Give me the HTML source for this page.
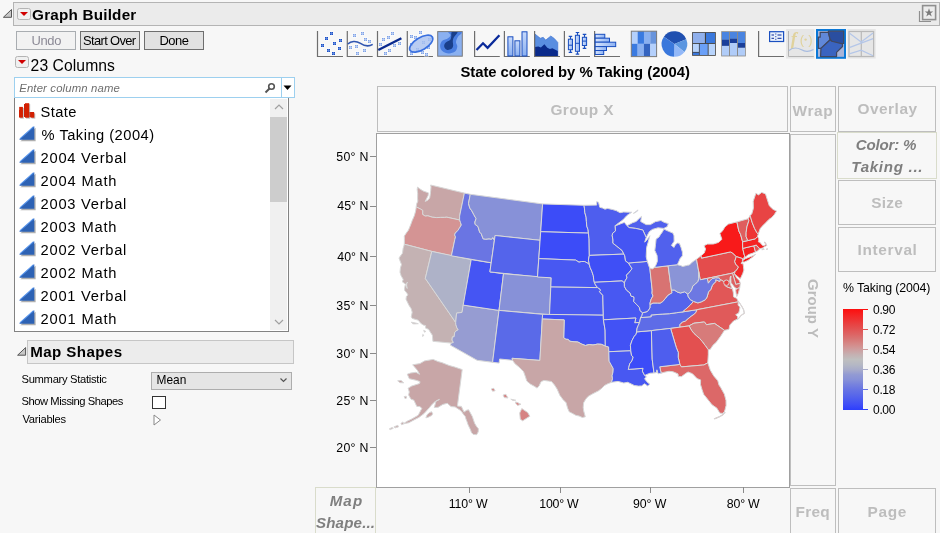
<!DOCTYPE html>
<html><head><meta charset="utf-8">
<style>
*{box-sizing:border-box;margin:0;padding:0}
html,body{width:940px;height:533px;overflow:hidden;background:#f7f7f7}
body{position:relative;font-family:"Liberation Sans",Arial,sans-serif;color:#000}
.a{position:absolute}
.hdr{left:13px;top:2px;width:927px;height:24px;background:#ebebeb;border:1px solid #b4b4b4}
.ddb{width:14px;height:12px;border:1px solid #b4b4b4;border-radius:2.5px;background:#f0f0f0}
.ddb:after{content:"";position:absolute;left:1.5px;top:2.6px;border-left:4px solid transparent;border-right:4px solid transparent;border-top:4.2px solid #d00000}
.btn{height:19px;border:1px solid #adadad;background:#e1e1e1;font-size:12.5px;text-align:center;line-height:17px}
.lst{font-size:14px;line-height:23px;white-space:nowrap}
.lbl{font-size:11.5px;white-space:nowrap}
.dz{border:1px solid #bebebe;color:#bcbcbc;font-weight:bold;font-size:15px;text-align:center}
.t{white-space:nowrap}
.tk{font-size:12px;white-space:nowrap}
</style></head><body>
<!-- header -->
<svg class="a" style="left:2px;top:8px" width="11" height="12"><path d="M9.5 1.5 L9.5 9.3 L1.4 9.3 Z" fill="#c8c8c8" stroke="#555" stroke-width="1" stroke-linejoin="round"/></svg>
<div class="a hdr"></div>
<div class="a ddb" style="left:17px;top:8px"></div>
<svg class="a" style="left:918px;top:4px" width="20" height="20"><path d="M1.5 7 V17.5 H13" fill="none" stroke="#8f8f8f" stroke-width="1.2"/><rect x="4.6" y="1.6" width="13" height="14" fill="#ececec" stroke="#8f8f8f" stroke-width="1.6"/><path d="M11 4.3 L12.1 7.4 L15.3 7.4 L12.7 9.3 L13.7 12.4 L11 10.5 L8.3 12.4 L9.3 9.3 L6.7 7.4 L9.9 7.4 Z" fill="#7a7a7a"/></svg>
<!-- buttons -->
<div class="a btn" style="left:16px;top:31px;width:60px;border-color:#a9adb1;background:#f2f2f2"></div>
<div class="a btn" style="left:80px;top:31px;width:60px;border-color:#6e6e6e"></div>
<div class="a btn" style="left:144px;top:31px;width:60px;border-color:#6e6e6e"></div>
<div class="a ddb" style="left:15px;top:56px"></div>
<!-- search -->
<div class="a" style="left:14px;top:77px;width:281px;height:21px;border:1px solid #9dd0ef;background:#fff"></div>
<div class="a" style="left:281px;top:78px;width:1px;height:19px;background:#9dd0ef"></div>
<svg class="a" style="left:264px;top:82px" width="12" height="12"><circle cx="7.5" cy="4.5" r="2.8" fill="none" stroke="#555" stroke-width="1.6"/><path d="M5.5 6.5 L1.5 10.5" stroke="#555" stroke-width="2"/></svg>
<svg class="a" style="left:283px;top:85px" width="10" height="6"><path d="M0.5 0.5 H8.5 L4.5 5 Z" fill="#000"/></svg>
<!-- list -->
<div class="a" style="left:14px;top:98px;width:275px;height:234px;border:1px solid #828282;border-top:none;background:#fff"></div>
<div class="a" style="left:270px;top:99px;width:17px;height:231px;background:#f0f0f0"></div>
<div class="a" style="left:270px;top:117px;width:17px;height:85px;background:#cdcdcd"></div>
<svg class="a" style="left:274px;top:104px" width="10" height="6"><path d="M1 5 L5 1 L9 5" fill="none" stroke="#a0a0a0" stroke-width="1.2"/></svg>
<svg class="a" style="left:274px;top:319px" width="10" height="6"><path d="M1 1 L5 5 L9 1" fill="none" stroke="#a0a0a0" stroke-width="1.2"/></svg>
<svg class="a" style="left:18px;top:103px" width="18" height="15"><rect x="1" y="7" width="4" height="7" fill="#c8200f"/><rect x="6" y="1" width="4" height="13" fill="#c8200f"/><rect x="11" y="9" width="5" height="5" fill="#c8200f"/></svg>
<svg class="a" style="left:0;top:0" width="940" height="70">
<defs><linearGradient id="gb" x1="0" x2="1"><stop offset="0" stop-color="#d6e4fc"/><stop offset="1" stop-color="#8eb2f2"/></linearGradient><linearGradient id="gv" x1="0" x2="0" y1="0" y2="1"><stop offset="0" stop-color="#c8dafc"/><stop offset="1" stop-color="#8ab0f0"/></linearGradient></defs>
<path d="M317.5 31V56.5H343.0" fill="none" stroke="#6e6e6e" stroke-width="1.2"/>
<rect x="329" y="31" width="5" height="5" fill="#ffffff" opacity="0.35"/><rect x="330" y="32" width="3" height="3" fill="#1d4fc4"/><path d="M330 33.5h3M331.5 32v3" stroke="#6c94e4" stroke-width="0.7"/><rect x="324" y="36" width="5" height="5" fill="#ffffff" opacity="0.35"/><rect x="325" y="37" width="3" height="3" fill="#1d4fc4"/><path d="M325 38.5h3M326.5 37v3" stroke="#6c94e4" stroke-width="0.7"/><rect x="338" y="38" width="5" height="5" fill="#ffffff" opacity="0.35"/><rect x="339" y="39" width="3" height="3" fill="#1d4fc4"/><path d="M339 40.5h3M340.5 39v3" stroke="#6c94e4" stroke-width="0.7"/><rect x="332" y="41" width="5" height="5" fill="#ffffff" opacity="0.35"/><rect x="333" y="42" width="3" height="3" fill="#1d4fc4"/><path d="M333 43.5h3M334.5 42v3" stroke="#6c94e4" stroke-width="0.7"/><rect x="320" y="43" width="5" height="5" fill="#ffffff" opacity="0.35"/><rect x="321" y="44" width="3" height="3" fill="#1d4fc4"/><path d="M321 45.5h3M322.5 44v3" stroke="#6c94e4" stroke-width="0.7"/><rect x="337" y="46" width="5" height="5" fill="#ffffff" opacity="0.35"/><rect x="338" y="47" width="3" height="3" fill="#1d4fc4"/><path d="M338 48.5h3M339.5 47v3" stroke="#6c94e4" stroke-width="0.7"/><rect x="326" y="48" width="5" height="5" fill="#ffffff" opacity="0.35"/><rect x="327" y="49" width="3" height="3" fill="#1d4fc4"/><path d="M327 50.5h3M328.5 49v3" stroke="#6c94e4" stroke-width="0.7"/><rect x="331" y="51" width="5" height="5" fill="#ffffff" opacity="0.35"/><rect x="332" y="52" width="3" height="3" fill="#1d4fc4"/><path d="M332 53.5h3M333.5 52v3" stroke="#6c94e4" stroke-width="0.7"/>
<path d="M347.3 31V56.5H372.7" fill="none" stroke="#6e6e6e" stroke-width="1.2"/>
<rect x="352" y="33" width="5" height="5" fill="#ffffff" opacity="0.35"/><rect x="353" y="34" width="3" height="3" fill="#7fa2e6"/><path d="M353 35.5h3M354.5 34v3" stroke="#c4d6f6" stroke-width="0.7"/><rect x="360" y="31" width="5" height="5" fill="#ffffff" opacity="0.35"/><rect x="361" y="32" width="3" height="3" fill="#7fa2e6"/><path d="M361 33.5h3M362.5 32v3" stroke="#c4d6f6" stroke-width="0.7"/><rect x="363" y="37" width="5" height="5" fill="#ffffff" opacity="0.35"/><rect x="364" y="38" width="3" height="3" fill="#7fa2e6"/><path d="M364 39.5h3M365.5 38v3" stroke="#c4d6f6" stroke-width="0.7"/><rect x="367" y="39" width="5" height="5" fill="#ffffff" opacity="0.35"/><rect x="368" y="40" width="3" height="3" fill="#7fa2e6"/><path d="M368 41.5h3M369.5 40v3" stroke="#c4d6f6" stroke-width="0.7"/><rect x="348" y="45" width="5" height="5" fill="#ffffff" opacity="0.35"/><rect x="349" y="46" width="3" height="3" fill="#7fa2e6"/><path d="M349 47.5h3M350.5 46v3" stroke="#c4d6f6" stroke-width="0.7"/><rect x="354" y="44" width="5" height="5" fill="#ffffff" opacity="0.35"/><rect x="355" y="45" width="3" height="3" fill="#7fa2e6"/><path d="M355 46.5h3M356.5 45v3" stroke="#c4d6f6" stroke-width="0.7"/><rect x="362" y="48" width="5" height="5" fill="#ffffff" opacity="0.35"/><rect x="363" y="49" width="3" height="3" fill="#7fa2e6"/><path d="M363 50.5h3M364.5 49v3" stroke="#c4d6f6" stroke-width="0.7"/><rect x="355" y="51" width="5" height="5" fill="#ffffff" opacity="0.35"/><rect x="356" y="52" width="3" height="3" fill="#7fa2e6"/><path d="M356 53.5h3M357.5 52v3" stroke="#c4d6f6" stroke-width="0.7"/>
<path d="M347.8 44 C351 41,356 40.5,360 43.2 S368 47.5,372.7 44.3" fill="none" stroke="#2f55b0" stroke-width="1.6"/>
<path d="M377.5 31V56.5H403.0" fill="none" stroke="#6e6e6e" stroke-width="1.2"/>
<rect x="390" y="31" width="5" height="5" fill="#ffffff" opacity="0.35"/><rect x="391" y="32" width="3" height="3" fill="#7fa2e6"/><path d="M391 33.5h3M392.5 32v3" stroke="#c4d6f6" stroke-width="0.7"/><rect x="386" y="35" width="5" height="5" fill="#ffffff" opacity="0.35"/><rect x="387" y="36" width="3" height="3" fill="#7fa2e6"/><path d="M387 37.5h3M388.5 36v3" stroke="#c4d6f6" stroke-width="0.7"/><rect x="381" y="37" width="5" height="5" fill="#ffffff" opacity="0.35"/><rect x="382" y="38" width="3" height="3" fill="#7fa2e6"/><path d="M382 39.5h3M383.5 38v3" stroke="#c4d6f6" stroke-width="0.7"/><rect x="378" y="42" width="5" height="5" fill="#ffffff" opacity="0.35"/><rect x="379" y="43" width="3" height="3" fill="#7fa2e6"/><path d="M379 44.5h3M380.5 43v3" stroke="#c4d6f6" stroke-width="0.7"/><rect x="392" y="43" width="5" height="5" fill="#ffffff" opacity="0.35"/><rect x="393" y="44" width="3" height="3" fill="#7fa2e6"/><path d="M393 45.5h3M394.5 44v3" stroke="#c4d6f6" stroke-width="0.7"/><rect x="397" y="41" width="5" height="5" fill="#ffffff" opacity="0.35"/><rect x="398" y="42" width="3" height="3" fill="#7fa2e6"/><path d="M398 43.5h3M399.5 42v3" stroke="#c4d6f6" stroke-width="0.7"/><rect x="387" y="48" width="5" height="5" fill="#ffffff" opacity="0.35"/><rect x="388" y="49" width="3" height="3" fill="#7fa2e6"/><path d="M388 50.5h3M389.5 49v3" stroke="#c4d6f6" stroke-width="0.7"/><rect x="383" y="51" width="5" height="5" fill="#ffffff" opacity="0.35"/><rect x="384" y="52" width="3" height="3" fill="#7fa2e6"/><path d="M384 53.5h3M385.5 52v3" stroke="#c4d6f6" stroke-width="0.7"/>
<path d="M378.3 50 L401.4 38.2" stroke="#0a2a8f" stroke-width="2.4"/>
<path d="M407.3 31V56.5H433.0" fill="none" stroke="#6e6e6e" stroke-width="1.2"/>
<rect x="418" y="30" width="5" height="5" fill="#ffffff" opacity="0.35"/><rect x="419" y="31" width="3" height="3" fill="#7fa2e6"/><path d="M419 32.5h3M420.5 31v3" stroke="#c4d6f6" stroke-width="0.7"/><rect x="409" y="34" width="5" height="5" fill="#ffffff" opacity="0.35"/><rect x="410" y="35" width="3" height="3" fill="#7fa2e6"/><path d="M410 36.5h3M411.5 35v3" stroke="#c4d6f6" stroke-width="0.7"/><rect x="413" y="35" width="5" height="5" fill="#ffffff" opacity="0.35"/><rect x="414" y="36" width="3" height="3" fill="#7fa2e6"/><path d="M414 37.5h3M415.5 36v3" stroke="#c4d6f6" stroke-width="0.7"/><rect x="427" y="37" width="5" height="5" fill="#ffffff" opacity="0.35"/><rect x="428" y="38" width="3" height="3" fill="#7fa2e6"/><path d="M428 39.5h3M429.5 38v3" stroke="#c4d6f6" stroke-width="0.7"/><rect x="421" y="40" width="5" height="5" fill="#ffffff" opacity="0.35"/><rect x="422" y="41" width="3" height="3" fill="#7fa2e6"/><path d="M422 42.5h3M423.5 41v3" stroke="#c4d6f6" stroke-width="0.7"/><rect x="409" y="42" width="5" height="5" fill="#ffffff" opacity="0.35"/><rect x="410" y="43" width="3" height="3" fill="#7fa2e6"/><path d="M410 44.5h3M411.5 43v3" stroke="#c4d6f6" stroke-width="0.7"/><rect x="426" y="45" width="5" height="5" fill="#ffffff" opacity="0.35"/><rect x="427" y="46" width="3" height="3" fill="#7fa2e6"/><path d="M427 47.5h3M428.5 46v3" stroke="#c4d6f6" stroke-width="0.7"/><rect x="415" y="47" width="5" height="5" fill="#ffffff" opacity="0.35"/><rect x="416" y="48" width="3" height="3" fill="#7fa2e6"/><path d="M416 49.5h3M417.5 48v3" stroke="#c4d6f6" stroke-width="0.7"/><rect x="420" y="50" width="5" height="5" fill="#ffffff" opacity="0.35"/><rect x="421" y="51" width="3" height="3" fill="#7fa2e6"/><path d="M421 52.5h3M422.5 51v3" stroke="#c4d6f6" stroke-width="0.7"/><rect x="409" y="51" width="5" height="5" fill="#ffffff" opacity="0.35"/><rect x="410" y="52" width="3" height="3" fill="#7fa2e6"/><path d="M410 53.5h3M411.5 52v3" stroke="#c4d6f6" stroke-width="0.7"/><rect x="424" y="52" width="5" height="5" fill="#ffffff" opacity="0.35"/><rect x="425" y="53" width="3" height="3" fill="#7fa2e6"/><path d="M425 54.5h3M426.5 53v3" stroke="#c4d6f6" stroke-width="0.7"/>
<ellipse cx="421.2" cy="43.7" rx="13" ry="6.1" transform="rotate(-31 421.2 43.7)" fill="#a9c0f0" fill-opacity="0.8" stroke="#3a70e0" stroke-width="1.7"/>
<rect x="437.7" y="31.6" width="24.6" height="24.6" fill="#8ab0f0" stroke="#7a7a7a" stroke-width="1"/>
<clipPath id="cc"><rect x="438.2" y="32.1" width="23.6" height="23.6"/></clipPath>
<g clip-path="url(#cc)"><path d="M448.70 31.80C446.80 32.33 450.72 33.93 450.60 35.00C450.48 36.07 449.38 37.23 448.00 38.20C446.62 39.17 443.62 39.52 442.30 40.80C440.98 42.08 440.10 44.20 440.10 45.90C440.10 47.60 440.87 49.73 442.30 51.00C443.73 52.27 446.57 53.40 448.70 53.50C450.83 53.60 453.67 52.77 455.10 51.60C456.53 50.43 457.15 48.10 457.30 46.50C457.45 44.90 455.83 43.70 456.00 42.00C456.17 40.30 457.30 38.00 458.30 36.30C459.30 34.60 463.60 32.55 462.00 31.80C460.40 31.05 450.60 31.27 448.70 31.80Z" fill="#4a7ee0"/><path d="M451.90 31.80C452.97 30.95 457.28 30.83 457.60 31.80C457.92 32.77 454.60 36.00 453.80 37.60C453.00 39.20 452.92 40.02 452.80 41.40C452.68 42.78 453.37 44.62 453.10 45.90C452.83 47.18 452.25 48.47 451.20 49.10C450.15 49.73 447.97 50.13 446.80 49.70C445.63 49.27 444.42 47.67 444.20 46.50C443.98 45.33 444.53 43.77 445.50 42.70C446.47 41.63 449.05 41.07 450.00 40.10C450.95 39.13 450.88 38.28 451.20 36.90C451.52 35.52 450.83 32.65 451.90 31.80Z" fill="#1a3f8a"/></g>
<path d="M474.6 31V56.5H499.8" fill="none" stroke="#6e6e6e" stroke-width="1.2"/>
<path d="M476.5 50 L483 43.3 L487.6 47.9 L499.4 35.3" fill="none" stroke="#0a2a9a" stroke-width="2.3"/>
<path d="M504.4 31V56.5H529.8" fill="none" stroke="#6e6e6e" stroke-width="1.2"/>
<rect x="507.9" y="36.8" width="5" height="19.2" fill="url(#gv)" stroke="#1a4fc0" stroke-width="1"/>
<rect x="514.9" y="40.8" width="5" height="15.2" fill="url(#gv)" stroke="#1a4fc0" stroke-width="1"/>
<rect x="522.0" y="31.8" width="5" height="24.2" fill="url(#gv)" stroke="#1a4fc0" stroke-width="1"/>
<path d="M534.9 34 L540.3 38.2 L543.2 37.3 L545.7 40.1 L550.8 36 L554.3 38.5 L557.8 42.4 V56 H534.9 Z" fill="#5a8ee0" stroke="#3a6ed0" stroke-width="0.6"/>
<path d="M534.9 47.1 L538.4 46.5 L540.9 47.5 L544.4 44.3 L547.3 47.8 L549.9 49.1 L552.4 48.3 L557.8 51 V56 H534.9 Z" fill="#0a2a8a"/>
<path d="M534.6 31V56.5H560.0" fill="none" stroke="#6e6e6e" stroke-width="1.2"/>
<path d="M564.4 31V56.5H590.0" fill="none" stroke="#6e6e6e" stroke-width="1.2"/>
<path d="M570.5 36.3V39.2M570.5 49.7V52.3M568.7 36.3H572.2M568.7 52.3H572.2" stroke="#1a4fc0" stroke-width="1.2" fill="none"/>
<rect x="568.4" y="39.2" width="4.1" height="10.5" fill="url(#gb)" stroke="#1a4fc0" stroke-width="1"/>
<path d="M568.4 45.2H572.5" stroke="#1a4fc0" stroke-width="1"/>
<path d="M577.5 32.5V35.3M577.5 51.3V54.2M575.7 32.5H579.2M575.7 54.2H579.2" stroke="#1a4fc0" stroke-width="1.2" fill="none"/>
<rect x="575.4" y="35.3" width="4.1" height="16.0" fill="url(#gb)" stroke="#1a4fc0" stroke-width="1"/>
<path d="M575.4 43.3H579.5" stroke="#1a4fc0" stroke-width="1"/>
<path d="M584.5 34.4V37.3M584.5 45.5V48.4M582.7 34.4H586.3M582.7 48.4H586.3" stroke="#1a4fc0" stroke-width="1.2" fill="none"/>
<rect x="582.4" y="37.3" width="4.2" height="8.2" fill="url(#gb)" stroke="#1a4fc0" stroke-width="1"/>
<path d="M582.4 41.1H586.6" stroke="#1a4fc0" stroke-width="1"/>
<path d="M594.6 31V56.5H620.0" fill="none" stroke="#6e6e6e" stroke-width="1.2"/>
<rect x="595.2" y="34.3" width="9.6" height="3.9" fill="url(#gb)" stroke="#1a4fc0" stroke-width="1"/>
<rect x="595.2" y="38.2" width="14.3" height="4.0" fill="url(#gb)" stroke="#1a4fc0" stroke-width="1"/>
<rect x="595.2" y="42.2" width="20.5" height="4.4" fill="url(#gb)" stroke="#1a4fc0" stroke-width="1"/>
<rect x="595.2" y="46.6" width="11.3" height="3.9" fill="url(#gb)" stroke="#1a4fc0" stroke-width="1"/>
<rect x="595.2" y="50.5" width="8.5" height="4.0" fill="url(#gb)" stroke="#1a4fc0" stroke-width="1"/>
<rect x="631.30" y="31.20" width="6.4" height="12.7" fill="#b4d0fc"/>
<rect x="637.62" y="31.20" width="6.4" height="12.7" fill="#3a7ae0"/>
<rect x="643.94" y="31.20" width="6.4" height="12.7" fill="#8ab0f0"/>
<rect x="650.26" y="31.20" width="6.4" height="12.7" fill="#6894dc"/>
<rect x="631.30" y="43.80" width="6.4" height="12.7" fill="#3a7ae0"/>
<rect x="637.62" y="43.80" width="6.4" height="12.7" fill="#8ab0f0"/>
<rect x="643.94" y="43.80" width="6.4" height="12.7" fill="#3464c0"/>
<rect x="650.26" y="43.80" width="6.4" height="12.7" fill="#b4d0fc"/>
<rect x="631.3" y="31.2" width="25.3" height="25.4" fill="none" stroke="#7a7a7a" stroke-width="1"/>
<path d="M674.40 44.00L663.91 36.66A12.8 12.8 0 0 1 686.27 39.21Z" fill="#2050b0"/>
<path d="M674.40 44.00L686.27 39.21A12.8 12.8 0 0 1 684.49 51.88Z" fill="#5a96e0"/>
<path d="M674.40 44.00L684.49 51.88A12.8 12.8 0 0 1 673.95 56.79Z" fill="#92b8f8"/>
<path d="M674.40 44.00L673.95 56.79A12.8 12.8 0 0 1 663.91 36.66Z" fill="#3a78dc"/>
<rect x="692.1" y="32.1" width="23.7" height="23.7" fill="#404040"/>
<rect x="692.9" y="32.9" width="12.0" height="10.1" fill="#90b0ec"/>
<rect x="706.0" y="32.9" width="9.0" height="10.1" fill="#3a78dc"/>
<rect x="692.9" y="43.9" width="6.0" height="8.0" fill="#b8d4fc"/>
<rect x="692.9" y="52.7" width="6.0" height="2.3" fill="#3a78dc"/>
<rect x="699.7" y="43.9" width="8.0" height="11.1" fill="#6aa0f8"/>
<rect x="708.6" y="43.9" width="6.4" height="11.1" fill="#b8d4fc"/>
<rect x="721.2" y="31.2" width="24.6" height="25.2" fill="#8a8a8a"/>
<rect x="722.0" y="32" width="7.0" height="7.8" fill="#4a84e0"/>
<rect x="722.0" y="39.8" width="7.0" height="6.1" fill="#1a3f9a"/>
<rect x="722.0" y="45.9" width="7.0" height="9.7" fill="#b0ccf8"/>
<rect x="730.0" y="32" width="7.0" height="6.8" fill="#4a84e0"/>
<rect x="730.0" y="38.8" width="7.0" height="4.2" fill="#1a3f9a"/>
<rect x="730.0" y="43.0" width="7.0" height="12.6" fill="#b0ccf8"/>
<rect x="738.0" y="32" width="7.0" height="11.0" fill="#4a84e0"/>
<rect x="738.0" y="43.0" width="7.0" height="4.8" fill="#1a3f9a"/>
<rect x="738.0" y="47.8" width="7.0" height="7.8" fill="#b0ccf8"/>
<path d="M758.6 31V56.5H783.9" fill="none" stroke="#6e6e6e" stroke-width="1.2"/>
<rect x="769.6" y="31.7" width="14" height="9.8" fill="#e8f0fc" stroke="#1a4fc0" stroke-width="1.2"/>
<path d="M771.5 35H774M771.5 38.3H774M777.5 35H781.5M777.5 38.3H781.5M775.8 33.5V34.5M775.8 36.2V37.2M775.8 38.8V39.8" stroke="#0a2a9a" stroke-width="1"/>
<rect x="786.1" y="29" width="28.4" height="29.6" fill="#e6e6e6"/>
<path d="M788.5 31V56.5H813.8" fill="none" stroke="#b4b4b4" stroke-width="1"/>
<text x="790.8" y="44.6" font-family="Liberation Serif,serif" font-style="italic" font-weight="bold" font-size="18" fill="#e0d29c">f</text>
<text x="799.8" y="44" font-family="Liberation Sans,sans-serif" font-size="13" fill="#e0d29c">(</text><text x="808.2" y="44" font-family="Liberation Sans,sans-serif" font-size="13" fill="#e0d29c">)</text><circle cx="805.6" cy="39.6" r="1.2" fill="#e0d29c"/>
<path d="M789 50.5 C793 47,797 47.5,801 49.5 S808 52.5,813.5 49.5" fill="none" stroke="#a8bce0" stroke-width="1.2"/>
<rect x="817" y="30" width="28" height="27.8" fill="#a8b4d8" stroke="#0a78d7" stroke-width="2"/>
<polygon points="820.19,32.33 828.38,32.33 830.24,39.78 820.94,48.34 818.33,48.34 818.33,37.17 820.19,37.17" fill="#6088d8" stroke="#404860" stroke-width="1.2" stroke-linejoin="round"/>
<polygon points="828.38,31.21 843.65,31.21 843.65,43.50 838.43,43.50 831.73,41.26 830.24,39.78 828.38,32.33" fill="#2a4ea0" stroke="#404860" stroke-width="1.2" stroke-linejoin="round"/>
<polygon points="820.94,48.34 830.24,39.78 831.73,41.26 842.53,43.87 842.53,46.48 836.57,52.43 836.57,56.53 820.56,56.53" fill="#3a64c0" stroke="#404860" stroke-width="1.2" stroke-linejoin="round"/>
<rect x="847.4" y="29" width="28.3" height="29.6" fill="#e6e6e6"/>
<rect x="849" y="31.5" width="24.6" height="25" fill="none" stroke="#b8b8b8" stroke-width="1.2"/><path d="M861.3 31.5V56.5" stroke="#b8b8b8" stroke-width="1.2"/>
<polyline points="849.23,33.07 861.14,42.01 873.06,33.07" fill="none" stroke="#b4c6e8" stroke-width="1.2"/>
<polyline points="849.23,47.59 873.06,38.66" fill="none" stroke="#b4c6e8" stroke-width="1.2"/>
<polyline points="849.23,53.92 861.14,50.20 873.06,55.78" fill="none" stroke="#b4c6e8" stroke-width="1.2"/>
</svg><svg class="a" style="left:0;top:95px" width="40" height="240"><defs><linearGradient id="tg" x1="0" y1="1" x2="1" y2="0"><stop offset="0" stop-color="#2a5cc8"/><stop offset="1" stop-color="#5a8ae6"/></linearGradient></defs>
<g fill="#9a9a9a" opacity="0.6"><rect x="20.2" y="12.9" width="3.7" height="10.8"/><rect x="26" y="9.2" width="4.2" height="14.5"/><rect x="31.5" y="18.5" width="3.8" height="5.2"/></g>
<g fill="#d42000"><rect x="19.2" y="11.9" width="3.7" height="10.8"/><rect x="25" y="8.2" width="4.2" height="14.5"/><rect x="30.5" y="17.5" width="3.8" height="5.2"/></g>
<path d="M20.4 46.3L35.6 32.7V46.3Z" fill="#7a7a7a" opacity="0.6"/>
<path d="M19.1 44.7L34.3 31.2V44.7Z" fill="#2d62b4"/>
<path d="M19.9 43.9L33.6 31.7" stroke="#4f8fea" stroke-width="1.1"/>
<path d="M20.4 69.3L35.6 55.7V69.3Z" fill="#7a7a7a" opacity="0.6"/>
<path d="M19.1 67.7L34.3 54.2V67.7Z" fill="#2d62b4"/>
<path d="M19.9 66.9L33.6 54.7" stroke="#4f8fea" stroke-width="1.1"/>
<path d="M20.4 92.3L35.6 78.7V92.3Z" fill="#7a7a7a" opacity="0.6"/>
<path d="M19.1 90.7L34.3 77.2V90.7Z" fill="#2d62b4"/>
<path d="M19.9 89.9L33.6 77.7" stroke="#4f8fea" stroke-width="1.1"/>
<path d="M20.4 115.3L35.6 101.7V115.3Z" fill="#7a7a7a" opacity="0.6"/>
<path d="M19.1 113.7L34.3 100.2V113.7Z" fill="#2d62b4"/>
<path d="M19.9 112.9L33.6 100.7" stroke="#4f8fea" stroke-width="1.1"/>
<path d="M20.4 138.3L35.6 124.7V138.3Z" fill="#7a7a7a" opacity="0.6"/>
<path d="M19.1 136.7L34.3 123.2V136.7Z" fill="#2d62b4"/>
<path d="M19.9 135.9L33.6 123.7" stroke="#4f8fea" stroke-width="1.1"/>
<path d="M20.4 161.3L35.6 147.7V161.3Z" fill="#7a7a7a" opacity="0.6"/>
<path d="M19.1 159.7L34.3 146.2V159.7Z" fill="#2d62b4"/>
<path d="M19.9 158.9L33.6 146.7" stroke="#4f8fea" stroke-width="1.1"/>
<path d="M20.4 184.3L35.6 170.7V184.3Z" fill="#7a7a7a" opacity="0.6"/>
<path d="M19.1 182.7L34.3 169.2V182.7Z" fill="#2d62b4"/>
<path d="M19.9 181.9L33.6 169.7" stroke="#4f8fea" stroke-width="1.1"/>
<path d="M20.4 207.3L35.6 193.7V207.3Z" fill="#7a7a7a" opacity="0.6"/>
<path d="M19.1 205.7L34.3 192.2V205.7Z" fill="#2d62b4"/>
<path d="M19.9 204.9L33.6 192.7" stroke="#4f8fea" stroke-width="1.1"/>
<path d="M20.4 230.3L35.6 216.7V230.3Z" fill="#7a7a7a" opacity="0.6"/>
<path d="M19.1 228.7L34.3 215.2V228.7Z" fill="#2d62b4"/>
<path d="M19.9 227.9L33.6 215.7" stroke="#4f8fea" stroke-width="1.1"/>
</svg>
<!-- map shapes panel -->
<svg class="a" style="left:16px;top:346px" width="11" height="11"><path d="M9.6 1.6 L9.6 9.2 L1.6 9.2 Z" fill="#c8c8c8" stroke="#555" stroke-width="1" stroke-linejoin="round"/></svg>
<div class="a" style="left:27px;top:340px;width:267px;height:24px;background:#ececec;border:1px solid #c6c6c6"></div>
<div class="a" style="left:151px;top:372px;width:141px;height:18px;border:1px solid #adadad;background:#e5e5e5"></div>
<svg class="a" style="left:280px;top:378px" width="8" height="5"><path d="M0.5 0.5 L3.5 3.5 L6.5 0.5" fill="none" stroke="#555" stroke-width="1.2"/></svg>
<div class="a" style="left:152px;top:396px;width:14px;height:13px;border:1px solid #333;background:#fff"></div>
<svg class="a" style="left:153px;top:414px" width="9" height="13"><path d="M1 1 L7.5 6 L1 11 Z" fill="#fff" stroke="#888" stroke-width="1"/></svg>
<!-- graph area -->
<div class="a dz" style="left:377px;top:86px;width:411px;height:46px;line-height:44px"></div>
<div class="a dz" style="left:790px;top:86px;width:46px;height:46px;line-height:44px"></div>
<div class="a dz" style="left:838px;top:86px;width:98px;height:46px;line-height:44px"></div>
<div class="a dz" style="left:790px;top:134px;width:46px;height:352px"></div>
<div class="a" style="left:821px;top:279px;transform:rotate(90deg);transform-origin:0 0;color:#bcbcbc;font-weight:bold;font-size:15px;line-height:15px;white-space:nowrap">Group Y</div>
<div class="a dz" style="left:837px;top:132px;width:100px;height:47px;border-color:#d9dccb;color:#7d7d7d;font-style:italic;line-height:22px;padding-top:1px"></div>
<div class="a dz" style="left:838px;top:180px;width:98px;height:45px;line-height:43px"></div>
<div class="a dz" style="left:838px;top:227px;width:98px;height:45px;line-height:43px"></div>
<div class="a dz" style="left:790px;top:488px;width:46px;height:50px;line-height:48px"></div>
<div class="a dz" style="left:838px;top:488px;width:98px;height:50px;line-height:48px"></div>
<div class="a dz" style="left:315px;top:487px;width:61px;height:50px;border-color:#d9dccb;color:#7d7d7d;font-style:italic;line-height:22px;padding-top:2px"></div>
<!-- legend -->
<div class="a" style="left:843px;top:309px;width:20px;height:101px;background:linear-gradient(to bottom,#fc0e0e 0.0%,#f62020 5.0%,#ef3131 10.0%,#e84242 15.0%,#e25353 20.0%,#dd6464 25.0%,#d77776 30.0%,#d58a89 35.0%,#ce9d9e 40.0%,#c5b0b1 45.0%,#bfbfbf 50.0%,#b5b8c4 55.0%,#a8acca 60.0%,#929ad3 65.0%,#8791d8 70.0%,#7681de 75.0%,#6673e4 80.0%,#5968e9 85.0%,#4b5bf0 90.0%,#3e4df7 95.0%,#2c3efc 100.0%)"></div>
<svg class="a" style="left:863px;top:305px" width="8" height="110"><g stroke-width="1"><path d="M0 4.5H5" stroke="#fc0e0e"/><path d="M0 24.5H5" stroke="#e25353"/><path d="M0 44.5H5" stroke="#ce9d9e"/><path d="M0 64.5H5" stroke="#a8acca"/><path d="M0 84.5H5" stroke="#6673e4"/><path d="M0 104.5H5" stroke="#2c3efc"/></g></svg>
<!-- plot frame -->
<div class="a" style="left:376px;top:133px;width:414px;height:355px;background:#fff;border:1px solid #a0a0a0;overflow:hidden">
<svg class="a" style="left:-377px;top:-134px" width="940" height="533"><g stroke="#d8d8d8" stroke-width="1" stroke-linejoin="round">
<path fill="#c8a6a7" d="M430.6 185.0L464.4 193.1L459.6 216.1L459.6 220.0L446.8 217.2L444.6 217.4L440.7 217.4L436.7 217.6L432.2 217.2L427.9 215.8L425.2 216.1L422.6 214.4L422.7 210.4L420.5 209.1L417.0 207.3L416.2 206.9L416.7 203.8L417.8 201.2L417.6 198.4L417.7 193.6L417.2 189.7L417.5 187.1L419.7 188.8L423.0 190.9L426.5 192.2L428.5 192.9L428.1 195.6L425.2 201.4L427.8 200.2L429.7 197.9L430.3 194.3L430.7 190.7L431.0 187.0L430.6 185.0Z"/>
<path fill="#d49494" d="M416.2 206.9L417.0 207.3L420.5 209.1L422.7 210.4L422.6 214.4L425.2 216.1L427.9 215.8L432.2 217.2L436.7 217.6L440.7 217.4L444.6 217.4L446.8 217.2L459.6 220.0L460.5 222.5L461.3 225.0L459.3 228.3L457.9 230.4L455.3 233.1L454.6 234.9L455.5 236.9L454.8 239.6L451.4 255.8L431.8 251.4L404.3 244.2L404.4 239.4L404.3 236.1L406.2 233.2L408.5 230.0L410.6 224.9L412.2 220.6L414.4 215.5L415.6 211.1L416.1 208.3Z"/>
<path fill="#c4b2b3" d="M404.3 244.2L431.8 251.4L425.3 278.4L455.7 322.5L455.8 324.4L456.9 327.9L458.2 329.7L455.7 331.2L454.7 332.7L454.1 336.8L452.4 336.9L452.0 340.1L453.4 342.4L451.3 343.1L432.9 341.3L432.6 337.7L432.4 335.3L430.3 332.1L428.6 329.3L425.7 328.2L425.6 325.6L423.4 325.1L420.7 323.3L418.3 320.2L412.2 318.4L411.3 316.8L412.2 312.2L411.2 308.7L409.0 305.3L406.0 299.2L406.4 296.5L407.9 294.9L406.9 293.1L404.6 290.3L404.7 287.4L405.3 284.9L406.0 285.8L407.2 288.5L406.7 285.3L406.7 282.7L407.8 282.5L405.9 284.4L403.7 282.8L402.4 282.0L403.2 279.3L401.2 275.9L400.0 272.2L400.4 268.0L401.5 264.5L400.2 261.2L399.0 258.0L401.3 254.8L402.5 253.2L403.1 248.6L403.9 245.9L404.3 244.2ZM411.3 322.2L414.6 322.8L418.3 323.7L415.1 323.9L412.8 323.8ZM423.7 330.4L425.8 331.4L424.5 332.2ZM422.8 334.4L423.8 335.3L422.7 336.5Z"/>
<path fill="#aeb2c8" d="M431.8 251.4L471.2 259.6L462.0 312.4L459.2 312.8L456.6 313.1L456.2 317.0L455.7 322.5L425.3 278.4Z"/>
<path fill="#969cd2" d="M463.2 305.1L499.0 310.4L492.6 362.3L477.1 360.3L450.2 345.1L451.3 343.1L453.4 342.4L452.0 340.1L452.4 336.9L454.1 336.8L454.7 332.7L455.7 331.2L458.2 329.7L456.9 327.9L455.8 324.4L455.7 322.5L455.7 322.5L456.2 317.0L456.6 313.1L459.2 312.8L462.0 312.4Z"/>
<path fill="#4555f3" d="M471.2 259.6L491.2 262.8L489.9 271.9L503.5 273.7L499.0 310.4L463.2 305.1Z"/>
<path fill="#6a75e3" d="M464.4 193.1L470.3 194.3L468.5 203.4L469.8 208.1L471.8 210.8L473.7 214.4L475.1 217.0L476.1 218.5L474.9 222.0L475.1 224.4L477.7 226.2L478.4 227.8L479.6 232.1L481.3 233.8L483.1 238.8L485.7 239.2L489.0 238.8L491.6 239.2L492.8 237.5L494.4 240.2L491.2 262.8L451.4 255.8L454.8 239.6L455.5 236.9L454.6 234.9L455.3 233.1L457.9 230.4L459.3 228.3L461.3 225.0L460.5 222.5L459.6 220.0L459.6 216.1Z"/>
<path fill="#8791d8" d="M542.6 203.9L540.1 240.3L495.1 235.5L494.4 240.2L492.8 237.5L491.6 239.2L489.0 238.8L485.7 239.2L483.1 238.8L481.3 233.8L479.6 232.1L478.4 227.8L477.7 226.2L475.1 224.4L474.9 222.0L476.1 218.5L475.1 217.0L473.7 214.4L471.8 210.8L469.8 208.1L468.5 203.4L470.3 194.3Z"/>
<path fill="#5464eb" d="M495.1 235.5L540.1 240.3L537.5 277.0L489.9 271.9Z"/>
<path fill="#8791d8" d="M503.5 273.7L551.2 277.8L549.5 314.7L499.0 310.4Z"/>
<path fill="#5a6ae8" d="M499.0 310.4L542.6 314.3L539.9 360.4L512.1 358.3L512.6 360.3L499.6 359.0L499.1 363.1L492.6 362.3Z"/>
<path fill="#3c4cf8" d="M542.6 203.9L584.0 205.3L584.5 208.9L584.8 212.5L586.1 217.1L586.4 221.6L586.8 226.2L588.1 229.8L588.4 233.1L540.7 231.7Z"/>
<path fill="#3c4cf8" d="M540.7 231.7L588.4 233.1L589.1 238.9L589.3 255.4L588.4 260.1L589.4 264.7L587.1 262.8L584.4 261.5L581.7 261.5L579.0 262.2L575.7 260.1L538.8 258.6Z"/>
<path fill="#4858f2" d="M538.8 258.6L575.7 260.1L579.0 262.2L581.7 261.5L584.4 261.5L587.1 262.8L589.4 264.7L590.1 267.4L591.9 271.5L593.3 275.7L593.7 279.3L594.3 282.3L595.5 284.9L597.6 287.6L550.8 287.0L551.2 277.8L537.5 277.0Z"/>
<path fill="#4b5bf0" d="M550.8 287.0L597.6 287.6L599.8 288.9L600.5 290.3L599.5 291.7L602.8 295.3L603.3 315.2L549.5 314.7Z"/>
<path fill="#4555f3" d="M542.6 314.3L603.3 315.2L603.4 319.8L605.1 330.0L605.3 346.1L601.3 344.3L597.5 344.1L593.0 345.0L589.2 344.5L585.4 345.5L581.7 344.1L577.9 342.0L574.1 341.8L569.6 341.2L568.2 339.4L565.9 339.3L563.7 337.8L564.2 319.9L542.3 319.0Z"/>
<path fill="#c8a6a7" d="M542.3 319.0L564.2 319.9L563.7 337.8L565.9 339.3L568.2 339.4L569.6 341.2L574.1 341.8L577.9 342.0L581.7 344.1L585.4 345.5L589.2 344.5L593.0 345.0L597.5 344.1L601.3 344.3L605.3 346.1L608.6 346.9L608.8 351.7L609.1 361.2L611.1 364.7L613.2 368.5L613.0 372.0L612.1 375.7L612.5 378.9L611.5 382.3L607.1 384.1L604.4 385.6L601.6 388.4L598.5 390.8L592.1 394.1L588.1 396.4L585.7 399.2L583.6 402.8L583.2 407.4L583.7 411.0L585.3 416.8L582.4 417.5L579.1 416.0L575.8 415.3L571.7 413.0L569.2 411.8L567.6 408.1L566.1 402.7L562.9 399.4L559.8 395.2L557.2 389.2L554.5 385.0L551.5 381.5L548.3 381.0L544.0 380.4L541.1 381.6L539.3 385.6L537.1 388.1L534.4 386.3L530.6 384.2L526.8 381.1L525.5 376.9L523.6 371.7L519.2 367.2L514.8 363.6L512.6 360.3L512.1 358.3L539.9 360.4Z"/>
<path fill="#4e5eee" d="M584.0 205.3L596.7 205.1L596.6 201.7L598.5 202.2L599.8 207.3L602.6 208.1L605.0 209.2L607.5 208.4L612.4 209.5L616.2 210.6L620.0 212.7L623.7 212.0L628.6 212.2L631.8 212.2L627.0 215.4L623.0 219.8L616.4 224.7L615.2 225.6L615.5 230.9L612.7 233.2L612.2 235.5L613.0 240.0L612.9 243.2L616.3 245.8L619.0 248.0L622.1 250.5L623.9 254.1L589.3 255.4L589.1 238.9L588.4 233.1L588.1 229.8L586.8 226.2L586.4 221.6L586.1 217.1L584.8 212.5L584.5 208.9L584.0 205.3Z"/>
<path fill="#3f4ff6" d="M589.3 255.4L623.9 254.1L624.8 255.9L625.5 260.9L628.4 263.0L630.2 265.7L632.1 268.8L631.2 269.7L629.3 272.2L626.4 275.2L627.0 277.9L625.4 280.3L624.4 282.9L622.1 280.9L594.3 282.3L593.7 279.3L593.3 275.7L591.9 271.5L590.1 267.4L589.4 264.7L588.4 260.1Z"/>
<path fill="#4858f2" d="M594.3 282.3L622.1 280.9L624.4 282.9L624.4 286.4L626.4 290.0L630.1 293.0L631.0 296.1L633.9 296.9L634.1 298.7L633.6 301.5L636.7 304.5L639.4 307.5L640.1 310.7L642.6 312.8L641.9 315.7L640.6 317.6L639.6 322.4L634.7 322.8L635.9 318.0L603.4 319.8L603.3 315.2L602.8 295.3L599.5 291.7L600.5 290.3L599.8 288.9L597.6 287.6L595.5 284.9L594.3 282.3Z"/>
<path fill="#4252f5" d="M603.4 319.8L635.9 318.0L634.7 322.8L639.6 322.4L638.3 325.3L637.1 328.1L636.6 331.9L636.1 334.2L634.0 336.7L632.0 340.5L630.4 345.3L630.8 350.8L608.8 351.7L608.6 346.9L605.3 346.1L605.1 330.0Z"/>
<path fill="#4858f2" d="M608.8 351.7L630.8 350.8L631.5 355.3L633.2 357.1L631.9 360.9L629.7 363.8L628.8 367.5L628.3 369.4L643.1 368.3L642.4 371.1L644.7 375.5L646.4 376.8L644.6 378.8L646.9 381.8L649.9 384.3L647.6 385.9L644.6 383.8L641.6 385.9L638.4 386.1L634.3 385.5L631.0 383.9L627.7 382.3L623.8 383.0L618.1 381.4L611.5 382.3L612.5 378.9L612.1 375.7L613.0 372.0L613.2 368.5L611.1 364.7L609.1 361.2Z"/>
<path fill="#3c4cf8" d="M636.6 331.9L651.4 330.6L652.2 359.2L654.0 373.0L650.1 373.2L647.0 374.4L644.7 375.5L642.4 371.1L643.1 368.3L628.3 369.4L628.8 367.5L629.7 363.8L631.9 360.9L633.2 357.1L631.5 355.3L630.8 350.8L630.4 345.3L632.0 340.5L634.0 336.7L636.1 334.2L636.6 331.9Z"/>
<path fill="#5e6ce7" d="M636.6 331.9L637.1 328.1L638.3 325.3L639.6 322.4L640.6 317.6L651.2 316.7L650.9 315.0L662.2 314.1L669.5 313.7L676.7 312.7L682.6 311.9L697.0 309.7L695.9 312.6L694.0 314.3L691.3 316.2L688.0 318.8L685.4 321.2L682.5 322.0L679.9 324.7L680.1 327.2L670.6 328.4L651.4 330.6Z"/>
<path fill="#5464eb" d="M640.6 317.6L641.9 315.7L642.6 312.8L647.4 311.5L649.9 308.0L650.0 304.7L653.0 303.0L657.4 303.0L660.2 303.1L662.9 301.4L665.4 298.3L667.9 295.2L671.9 292.8L671.4 290.1L674.3 290.0L677.5 292.1L680.5 293.0L684.6 291.8L687.8 294.1L688.1 296.3L690.1 299.5L693.3 301.3L693.5 301.4L690.3 305.1L685.8 309.1L682.6 311.9L676.7 312.7L669.5 313.7L662.2 314.1L650.9 315.0L651.2 316.7L640.6 317.6Z"/>
<path fill="#4e5eee" d="M628.4 263.0L647.3 261.4L649.3 267.2L649.9 268.5L652.2 290.1L652.0 293.4L653.0 296.0L651.2 299.0L650.1 302.8L650.0 304.7L649.9 308.0L647.4 311.5L642.6 312.8L640.1 310.7L639.4 307.5L636.7 304.5L633.6 301.5L634.1 298.7L633.9 296.9L631.0 296.1L630.1 293.0L626.4 290.0L624.4 286.4L624.4 282.9L625.4 280.3L627.0 277.9L626.4 275.2L629.3 272.2L631.2 269.7L632.1 268.8L630.2 265.7L628.4 263.0Z"/>
<path fill="#d87372" d="M649.8 268.0L652.2 269.0L654.6 267.4L668.1 265.8L671.4 290.1L671.9 292.8L667.9 295.2L665.4 298.3L662.9 301.4L660.2 303.1L657.4 303.0L653.0 303.0L650.0 304.7L650.1 302.8L651.2 299.0L653.0 296.0L652.0 293.4L652.2 290.1Z"/>
<path fill="#8a94d7" d="M668.1 265.8L677.3 264.7L680.5 265.5L682.7 266.5L687.4 265.3L689.4 265.0L692.3 262.1L696.5 259.2L698.7 271.4L698.6 274.1L698.7 278.4L698.1 281.3L695.4 284.1L692.9 285.9L692.0 288.9L690.3 292.0L687.8 294.1L684.6 291.8L680.5 293.0L677.5 292.1L674.3 290.0L671.4 290.1Z"/>
<path fill="#5161ed" d="M654.6 267.4L668.1 265.8L677.3 264.7L679.1 261.0L680.1 258.5L682.4 255.8L682.4 252.1L681.1 247.7L679.4 243.3L677.4 243.1L675.3 244.8L674.1 247.4L671.4 245.4L674.1 241.3L674.0 235.8L672.9 233.1L668.1 231.1L663.9 229.1L662.4 231.9L660.2 234.9L659.1 236.9L656.1 239.1L655.5 244.7L654.8 250.4L657.1 255.6L657.4 261.2L655.9 265.1ZM627.0 225.7L629.1 227.6L635.7 228.4L642.8 230.0L646.2 237.5L649.4 231.6L652.4 229.4L658.0 227.8L663.8 228.4L667.4 226.5L668.3 223.6L664.3 222.4L660.9 220.5L655.3 221.7L650.5 224.6L646.1 224.6L640.7 221.5L641.5 216.4L638.6 218.9L636.3 221.4L632.6 222.7ZM633.4 213.4L635.4 211.9L638.0 209.9L637.5 211.0L635.2 212.6Z"/>
<path fill="#4555f3" d="M615.2 225.6L617.0 225.2L621.9 223.3L624.4 222.4L627.0 225.7L629.1 227.6L635.7 228.4L642.8 230.0L646.2 237.5L644.7 242.2L647.1 239.7L649.9 235.7L648.0 242.8L646.6 247.6L646.2 256.9L647.3 261.4L628.4 263.0L625.5 260.9L624.8 255.9L623.9 254.1L622.1 250.5L619.0 248.0L616.3 245.8L612.9 243.2L613.0 240.0L612.2 235.5L612.7 233.2L615.5 230.9Z"/>
<path fill="#e44c4c" d="M696.5 259.2L701.1 255.7L701.5 258.1L730.6 251.9L732.9 253.3L736.3 256.6L734.7 261.4L735.6 264.0L738.5 267.1L736.7 269.9L735.0 271.6L732.5 273.1L700.2 279.8L698.7 271.4Z"/>
<path fill="#f81a1a" d="M701.5 258.1L701.1 255.7L704.3 252.9L705.6 248.9L704.0 245.7L707.4 244.1L713.4 244.0L718.5 242.4L721.9 239.3L719.9 233.6L722.6 230.7L725.0 226.8L728.4 224.1L736.9 221.9L738.8 230.9L740.6 234.5L742.6 241.8L742.7 248.4L744.3 255.2L744.8 256.0L744.0 258.1L742.8 260.1L742.5 258.6L736.3 256.6L732.9 253.3L730.6 251.9ZM742.4 261.9L744.4 262.0L747.9 260.4L752.1 257.4L755.8 254.3L752.4 255.9L749.2 257.2L745.3 258.7L742.9 260.3Z"/>
<path fill="#f22929" d="M736.3 256.6L742.5 258.6L742.4 261.4L741.2 263.6L743.0 263.6L743.5 266.8L743.9 270.1L742.7 273.7L740.3 278.8L737.5 276.4L735.0 274.6L734.3 273.3L735.0 271.6L736.7 269.9L738.5 267.1L735.6 264.0L734.7 261.4Z"/>
<path fill="#e35050" d="M732.5 273.1L735.0 271.6L734.4 273.8L735.7 276.3L737.4 278.8L739.3 280.4L740.3 283.3L735.8 284.4Z"/>
<path fill="#dd6262" d="M707.3 278.4L732.5 273.1L735.8 284.4L740.3 283.3L739.8 287.4L737.2 288.8L735.2 287.9L733.7 286.3L731.0 282.6L730.8 278.4L731.0 276.0L730.2 277.1L729.7 281.5L731.3 286.8L732.5 288.9L730.1 288.1L726.9 286.9L724.8 285.4L725.7 282.9L721.9 280.4L720.1 279.6L719.3 278.1L715.6 277.9L712.2 278.6L710.4 280.4L708.3 283.2Z"/>
<path fill="#e15757" d="M738.4 301.8L697.0 309.7L682.6 311.9L685.8 309.1L690.3 305.1L693.5 301.4L697.9 302.9L701.4 301.8L705.4 299.7L707.1 297.0L708.6 291.6L710.8 289.7L712.2 285.7L713.3 284.1L715.7 281.7L715.7 279.7L719.8 281.5L720.1 279.6L721.9 280.4L725.7 282.9L724.8 285.4L726.9 286.9L730.1 288.1L732.5 288.9L733.4 293.0L733.5 296.8L736.8 298.4ZM737.2 288.8L739.8 287.4L738.5 292.8L736.8 296.5L736.1 293.3L735.6 289.7Z"/>
<path fill="#6d78e2" d="M698.7 271.4L700.2 279.8L707.3 278.4L708.3 283.2L710.4 280.4L712.2 278.6L715.6 277.9L719.3 278.1L720.1 279.6L719.8 281.5L715.7 279.7L715.7 281.7L713.3 284.1L712.2 285.7L710.8 289.7L708.6 291.6L707.1 297.0L705.4 299.7L701.4 301.8L697.9 302.9L693.5 301.4L693.3 301.3L690.1 299.5L688.1 296.3L687.8 294.1L690.3 292.0L692.0 288.9L692.9 285.9L695.4 284.1L698.1 281.3L698.7 278.4L698.6 274.1L698.7 271.4Z"/>
<path fill="#e05a5a" d="M680.1 327.2L689.0 325.9L693.9 323.2L703.9 322.0L704.8 322.3L706.4 324.7L714.5 323.4L724.5 330.3L728.9 329.4L729.9 325.0L733.6 320.9L737.8 319.0L737.6 316.7L735.7 314.7L738.7 313.1L739.5 310.1L740.0 307.1L738.0 305.2L738.4 301.8L697.0 309.7L695.9 312.6L694.0 314.3L691.3 316.2L688.0 318.8L685.4 321.2L682.5 322.0L679.9 324.7L680.1 327.2ZM737.2 319.8L739.0 317.8L741.4 314.9L744.1 313.3L743.6 310.1L741.8 306.7L739.4 303.0L738.6 301.8L738.9 301.7L742.1 306.6L743.9 310.0L744.4 313.5L741.5 315.3L739.1 318.2Z"/>
<path fill="#d77b7a" d="M689.0 325.9L693.9 323.2L703.9 322.0L704.8 322.3L706.4 324.7L714.5 323.4L724.5 330.3L720.6 336.3L716.3 342.2L713.0 345.2L710.2 349.4L708.3 349.8L705.3 345.6L702.2 341.5L699.7 338.5L696.7 335.9L694.0 333.5L691.7 330.6L689.0 325.9Z"/>
<path fill="#e35050" d="M670.6 328.4L689.0 325.9L691.7 330.6L694.0 333.5L696.7 335.9L699.7 338.5L702.2 341.5L705.3 345.6L708.3 349.8L708.3 354.4L707.8 362.8L703.8 365.0L702.2 365.1L681.4 366.9L679.9 364.4L678.2 357.2L678.3 352.5L676.3 347.6L670.6 328.4Z"/>
<path fill="#dc6868" d="M659.7 366.8L679.9 364.4L681.4 366.9L702.2 365.1L703.8 365.0L707.8 362.8L710.2 369.9L713.7 375.9L717.8 380.7L719.0 385.1L720.7 387.6L724.4 394.3L726.0 400.5L726.1 405.5L725.1 409.4L724.3 411.9L722.4 413.4L719.8 413.1L718.6 411.0L716.8 408.1L712.0 404.8L708.8 400.7L703.6 394.2L702.1 389.8L700.5 384.5L700.6 379.9L697.1 378.6L692.4 373.7L688.1 372.0L685.9 373.3L681.5 376.6L678.3 376.6L678.0 373.9L672.9 371.7L668.9 371.3L663.5 372.4L661.2 373.2ZM724.8 412.2L722.6 414.5L719.9 416.3L716.7 417.6L714.3 418.6L714.4 419.1L716.8 418.2L720.0 416.8L723.1 414.9L725.3 412.6Z"/>
<path fill="#4e5eee" d="M651.4 330.6L670.6 328.4L676.3 347.6L678.3 352.5L678.2 357.2L679.9 364.4L659.7 366.8L661.2 373.2L658.1 373.8L656.9 369.8L656.4 372.6L654.0 373.0L652.2 359.2Z"/>
<path fill="#f52222" d="M742.7 248.4L753.8 245.8L755.5 251.9L752.4 253.3L748.5 254.6L746.1 256.4L744.0 258.1L744.8 256.0L744.3 255.2Z"/>
<path fill="#e25353" d="M753.8 245.8L756.5 245.0L756.9 246.1L759.1 247.8L759.6 249.1L757.4 251.0L755.2 252.1L755.5 251.9Z"/>
<path fill="#f52222" d="M742.7 248.4L742.6 241.8L755.4 238.8L757.5 236.5L758.8 238.8L758.7 240.7L758.3 241.8L759.9 242.3L761.5 244.3L762.7 245.6L764.3 245.5L765.8 244.6L765.2 243.2L764.1 242.5L764.7 242.1L766.0 243.4L766.9 245.4L764.7 246.5L762.8 247.8L762.4 248.1L760.6 248.6L759.6 249.1L759.1 247.8L756.9 246.1L756.5 245.0L753.8 245.8ZM761.8 249.9L764.3 249.2L763.0 248.4ZM766.0 249.5L767.9 249.1L767.0 248.7Z"/>
<path fill="#df5e5e" d="M742.6 241.8L747.8 240.6L746.1 236.6L746.1 232.8L746.9 226.9L748.9 220.6L748.3 218.7L736.9 221.9L738.8 230.9L740.6 234.5Z"/>
<path fill="#ee3535" d="M747.8 240.6L755.4 238.8L757.5 236.5L758.2 234.2L756.9 232.6L754.6 228.5L752.2 222.5L750.1 215.5L748.3 218.7L748.9 220.6L746.9 226.9L746.1 232.8L746.1 236.6Z"/>
<path fill="#e84444" d="M758.2 234.2L760.1 228.8L762.1 226.3L766.3 222.2L768.9 219.4L771.7 217.6L774.2 214.8L776.6 211.1L773.1 209.4L769.3 205.8L765.5 193.9L761.7 192.4L758.5 194.9L755.9 193.3L753.2 201.2L753.4 208.3L751.7 214.1L750.1 215.5L752.2 222.5L754.6 228.5L756.9 232.6Z"/>
<path fill="#c8a6a7" d="M462.2 369.6L457.4 406.1L461.4 406.4L464.0 412.1L466.4 410.4L468.5 409.7L469.4 411.2L472.3 416.5L474.6 423.3L476.5 426.4L478.4 428.8L478.2 431.9L476.6 434.7L473.5 434.4L471.5 432.8L470.5 429.7L469.2 427.1L468.0 424.6L467.0 421.6L465.8 418.6L465.4 416.7L463.7 414.7L461.9 412.1L459.7 409.8L458.1 408.9L455.2 406.9L451.0 406.6L447.3 403.3L442.9 404.4L438.1 407.3L434.3 407.5L436.0 401.0L439.5 399.4L434.9 401.7L431.0 405.5L429.5 407.6L424.0 413.6L418.9 417.4L414.0 419.9L408.9 422.7L403.0 423.9L407.0 421.3L411.9 418.9L418.2 415.3L421.8 408.4L420.0 406.6L416.8 406.4L413.9 400.2L410.9 399.1L408.6 394.9L409.3 392.0L408.1 388.2L411.8 386.0L419.6 383.5L420.0 381.6L416.2 380.3L409.3 378.7L407.3 374.2L410.7 373.0L416.0 372.3L419.6 374.3L417.4 370.3L414.2 366.6L412.7 364.8L419.9 363.6L424.5 360.9L433.1 359.4L438.1 361.6L441.8 362.6L449.2 365.5L454.8 367.1ZM425.9 417.8L428.1 417.3L431.7 415.5L432.7 413.8L431.6 411.7L429.4 412.7L427.1 414.7ZM397.7 380.8L401.0 380.4L403.7 382.8L400.0 382.7ZM404.2 396.6L406.2 396.2L406.6 398.1L405.0 398.6ZM401.7 424.7L403.7 423.8L403.0 421.9L400.9 423.4ZM395.3 427.8L398.4 427.0L397.9 425.3L393.9 426.9ZM390.2 429.6L393.3 428.3L392.1 427.5L389.3 428.9Z"/>
<path fill="#d68383" d="M521.8 408.6L527.7 412.5L529.8 416.2L522.7 420.8L520.3 419.2L519.7 413.0ZM515.5 401.9L517.5 402.6L521.0 404.3L517.6 405.4L515.7 403.3ZM510.8 399.2L515.7 400.2L513.1 400.5ZM503.1 395.1L505.9 394.3L508.0 398.0L504.3 397.6ZM491.2 389.0L493.7 388.3L495.1 390.8L492.6 391.2Z"/>
<circle cx="726.4" cy="282.7" r="2.7" fill="#e94141"/>
</g></svg>
</div>
<!-- axes -->
<svg class="a" style="left:0;top:0" width="940" height="533"><g stroke="#8a8a8a" stroke-width="1">
<path d="M370 156.5H376M370 206.5H376M370 256.5H376M370 305.5H376M370 353.5H376M370 400.5H376M370 447.5H376"/>
<path d="M469.5 487V493M560.5 487V493M650.5 487V493M743.5 487V493"/></g></svg>
<div class="a t" style="left:32.10px;top:7.28px;font-size:15.26px;line-height:15.26px;letter-spacing:0.208px;color:#000;font-weight:bold">Graph Builder</div>
<div class="a t" style="left:31.50px;top:34.65px;font-size:12.94px;line-height:12.94px;letter-spacing:-0.333px;color:#8c8a96">Undo</div>
<div class="a t" style="left:83.10px;top:34.75px;font-size:12.94px;line-height:12.94px;letter-spacing:-0.656px;color:#000">Start Over</div>
<div class="a t" style="left:159.50px;top:34.75px;font-size:12.94px;line-height:12.94px;letter-spacing:-0.500px;color:#000">Done</div>
<div class="a t" style="left:30.60px;top:58.21px;font-size:15.70px;line-height:15.70px;letter-spacing:0.067px;color:#000">23 Columns</div>
<div class="a t" style="left:19.20px;top:82.60px;font-size:11.34px;line-height:11.34px;letter-spacing:0.156px;color:#6e6e6e;font-style:italic">Enter column name</div>
<div class="a t" style="left:40.60px;top:105.17px;font-size:14.68px;line-height:14.68px;letter-spacing:0.400px;color:#000">State</div>
<div class="a t" style="left:41.60px;top:128.17px;font-size:14.68px;line-height:14.68px;letter-spacing:0.479px;color:#000">% Taking (2004)</div>
<div class="a t" style="left:40.60px;top:151.17px;font-size:14.68px;line-height:14.68px;letter-spacing:0.740px;color:#000">2004 Verbal</div>
<div class="a t" style="left:40.60px;top:174.17px;font-size:14.68px;line-height:14.68px;letter-spacing:0.825px;color:#000">2004 Math</div>
<div class="a t" style="left:40.60px;top:197.17px;font-size:14.68px;line-height:14.68px;letter-spacing:0.740px;color:#000">2003 Verbal</div>
<div class="a t" style="left:40.60px;top:220.17px;font-size:14.68px;line-height:14.68px;letter-spacing:0.825px;color:#000">2003 Math</div>
<div class="a t" style="left:40.60px;top:243.17px;font-size:14.68px;line-height:14.68px;letter-spacing:0.740px;color:#000">2002 Verbal</div>
<div class="a t" style="left:40.60px;top:266.17px;font-size:14.68px;line-height:14.68px;letter-spacing:0.825px;color:#000">2002 Math</div>
<div class="a t" style="left:40.60px;top:289.17px;font-size:14.68px;line-height:14.68px;letter-spacing:0.740px;color:#000">2001 Verbal</div>
<div class="a t" style="left:40.60px;top:312.17px;font-size:14.68px;line-height:14.68px;letter-spacing:0.825px;color:#000">2001 Math</div>
<div class="a t" style="left:30.20px;top:344.20px;font-size:15.12px;line-height:15.12px;letter-spacing:0.411px;color:#000;font-weight:bold">Map Shapes</div>
<div class="a t" style="left:21.50px;top:373.93px;font-size:11.19px;line-height:11.19px;letter-spacing:-0.294px;color:#000">Summary Statistic</div>
<div class="a t" style="left:21.50px;top:396.23px;font-size:11.19px;line-height:11.19px;letter-spacing:-0.450px;color:#000">Show Missing Shapes</div>
<div class="a t" style="left:22.50px;top:413.93px;font-size:11.19px;line-height:11.19px;letter-spacing:-0.275px;color:#000">Variables</div>
<div class="a t" style="left:156.60px;top:375.41px;font-size:11.92px;line-height:11.92px;letter-spacing:-0.033px;color:#000">Mean</div>
<div class="a t" style="left:460.40px;top:65.35px;font-size:14.83px;line-height:14.83px;letter-spacing:-0.029px;color:#000;font-weight:bold">State colored by % Taking (2004)</div>
<div class="a t" style="left:550.40px;top:102.36px;font-size:15.41px;line-height:15.41px;letter-spacing:0.383px;color:#bdbdbd;font-weight:bold">Group X</div>
<div class="a t" style="left:792.60px;top:102.56px;font-size:15.41px;line-height:15.41px;letter-spacing:0.633px;color:#bdbdbd;font-weight:bold">Wrap</div>
<div class="a t" style="left:857.50px;top:100.66px;font-size:15.41px;line-height:15.41px;letter-spacing:0.500px;color:#bdbdbd;font-weight:bold">Overlay</div>
<div class="a t" style="left:855.80px;top:136.70px;font-size:15.12px;line-height:15.12px;letter-spacing:-0.200px;color:#7f7f7f;font-weight:bold;font-style:italic">Color: %</div>
<div class="a t" style="left:851.30px;top:159.00px;font-size:15.12px;line-height:15.12px;letter-spacing:0.700px;color:#7f7f7f;font-weight:bold;font-style:italic">Taking ...</div>
<div class="a t" style="left:871.20px;top:195.46px;font-size:15.41px;line-height:15.41px;letter-spacing:0.267px;color:#bdbdbd;font-weight:bold">Size</div>
<div class="a t" style="left:857.50px;top:242.26px;font-size:15.41px;line-height:15.41px;letter-spacing:0.657px;color:#bdbdbd;font-weight:bold">Interval</div>
<div class="a t" style="left:795.50px;top:504.36px;font-size:15.41px;line-height:15.41px;letter-spacing:0.300px;color:#bdbdbd;font-weight:bold">Freq</div>
<div class="a t" style="left:867.50px;top:504.36px;font-size:15.41px;line-height:15.41px;letter-spacing:0.667px;color:#bdbdbd;font-weight:bold">Page</div>
<div class="a t" style="left:329.70px;top:493.40px;font-size:15.12px;line-height:15.12px;letter-spacing:1.100px;color:#7f7f7f;font-weight:bold;font-style:italic">Map</div>
<div class="a t" style="left:316.00px;top:515.20px;font-size:15.12px;line-height:15.12px;letter-spacing:0.157px;color:#7f7f7f;font-weight:bold;font-style:italic">Shape...</div>
<div class="a t" style="left:843.10px;top:281.95px;font-size:12.35px;line-height:12.35px;letter-spacing:-0.129px;color:#000">% Taking (2004)</div>
<div class="a t" style="left:873.10px;top:304.29px;font-size:12.06px;line-height:12.06px;letter-spacing:-0.400px;color:#000">0.90</div>
<div class="a t" style="left:873.10px;top:324.29px;font-size:12.06px;line-height:12.06px;letter-spacing:-0.400px;color:#000">0.72</div>
<div class="a t" style="left:873.10px;top:344.29px;font-size:12.06px;line-height:12.06px;letter-spacing:-0.400px;color:#000">0.54</div>
<div class="a t" style="left:873.10px;top:364.29px;font-size:12.06px;line-height:12.06px;letter-spacing:-0.400px;color:#000">0.36</div>
<div class="a t" style="left:873.10px;top:384.29px;font-size:12.06px;line-height:12.06px;letter-spacing:-0.400px;color:#000">0.18</div>
<div class="a t" style="left:873.10px;top:404.29px;font-size:12.06px;line-height:12.06px;letter-spacing:-0.400px;color:#000">0.00</div>
<div class="a t" style="left:336.30px;top:150.85px;font-size:12.35px;line-height:12.35px;letter-spacing:0.275px;color:#000">50° N</div>
<div class="a t" style="left:337.30px;top:200.45px;font-size:12.35px;line-height:12.35px;letter-spacing:0.025px;color:#000">45° N</div>
<div class="a t" style="left:337.30px;top:251.15px;font-size:12.35px;line-height:12.35px;letter-spacing:0.025px;color:#000">40° N</div>
<div class="a t" style="left:336.30px;top:300.15px;font-size:12.35px;line-height:12.35px;letter-spacing:0.275px;color:#000">35° N</div>
<div class="a t" style="left:336.30px;top:347.95px;font-size:12.35px;line-height:12.35px;letter-spacing:0.275px;color:#000">30° N</div>
<div class="a t" style="left:336.30px;top:395.05px;font-size:12.35px;line-height:12.35px;letter-spacing:0.275px;color:#000">25° N</div>
<div class="a t" style="left:336.30px;top:441.85px;font-size:12.35px;line-height:12.35px;letter-spacing:0.275px;color:#000">20° N</div>
<div class="a t" style="left:448.70px;top:497.55px;font-size:12.35px;line-height:12.35px;letter-spacing:-0.140px;color:#000">110° W</div>
<div class="a t" style="left:539.30px;top:497.55px;font-size:12.35px;line-height:12.35px;letter-spacing:-0.240px;color:#000">100° W</div>
<div class="a t" style="left:633.00px;top:497.55px;font-size:12.35px;line-height:12.35px;letter-spacing:-0.075px;color:#000">90° W</div>
<div class="a t" style="left:726.80px;top:497.55px;font-size:12.35px;line-height:12.35px;letter-spacing:-0.200px;color:#000">80° W</div>
</body></html>
